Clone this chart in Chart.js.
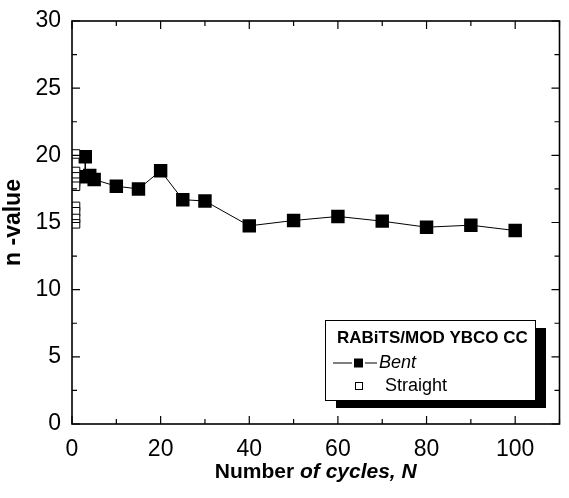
<!DOCTYPE html>
<html>
<head>
<meta charset="utf-8">
<script src="https://cdn.jsdelivr.net/npm/chart.js@4/dist/chart.umd.min.js"></script>
<style>
  html, body { margin: 0; padding: 0; background: #fff; }
  #wrap { width: 569px; height: 498px; }
</style>
</head>
<body>
<div id="wrap"><canvas id="myChart" width="569" height="498"></canvas></div>
<script>
// values
var bentN = [3, 3, 4, 5, 10, 15, 20, 25, 30, 40, 50, 60, 70, 80, 90, 100];
var bentValues = [19.9, 18.4, 18.5, 18.2, 17.7, 17.5, 18.85, 16.7, 16.6, 14.75, 15.15, 15.45, 15.1, 14.65, 14.8, 14.4];
var straightN = [0.8, 0.8, 0.8, 0.8, 0.8, 0.8, 0.8, 0.8, 0.8];
var straightValues = [20.1, 18.8, 18.4, 18.0, 17.7, 16.2, 15.8, 15.3, 14.9];
var xTickLabels = [0, 20, 40, 60, 80, 100];
var yTickLabels = [0, 5, 10, 15, 20, 25, 30];
var legendTitle = "RABiTS/MOD YBCO CC";

var FONT = "'Liberation Sans', Arial, sans-serif";

function toPoints(xs, ys) {
    return xs.map(function (x, i) { return { x: x, y: ys[i] }; });
}

// ticks pointing inward on all four sides, plus the box
var frame = {
    id: 'frame',
    afterDatasetsDraw: function (chart) {
        var ctx = chart.ctx, a = chart.chartArea;
        var xs = chart.scales.x, ys = chart.scales.y;
        ctx.save();
        ctx.strokeStyle = '#000';
        ctx.lineWidth = 1.6;
        ctx.strokeRect(a.left, a.top, a.right - a.left, a.bottom - a.top);
        ctx.lineWidth = 1.2;
        ctx.beginPath();
        xs.ticks.forEach(function (t) {
            var px = xs.getPixelForValue(t.value);
            var len = xTickLabels.indexOf(t.value) >= 0 ? 8 : 5;
            ctx.moveTo(px, a.bottom); ctx.lineTo(px, a.bottom - len);
            ctx.moveTo(px, a.top); ctx.lineTo(px, a.top + len);
        });
        ys.ticks.forEach(function (t) {
            var py = ys.getPixelForValue(t.value);
            var len = yTickLabels.indexOf(t.value) >= 0 ? 8 : 5;
            ctx.moveTo(a.left, py); ctx.lineTo(a.left + len, py);
            ctx.moveTo(a.right, py); ctx.lineTo(a.right - len, py);
        });
        ctx.stroke();
        ctx.restore();
    }
};

// boxed legend with a drop shadow, like the Origin one
var boxLegend = {
    id: 'boxLegend',
    afterDraw: function (chart) {
        var ctx = chart.ctx;
        var bx = 325, by = 320, bw = 210, bh = 80;
        ctx.save();
        ctx.fillStyle = '#000';
        ctx.fillRect(bx + 11, by + 8, bw, bh);
        ctx.fillStyle = '#fff';
        ctx.fillRect(bx, by, bw, bh);
        ctx.strokeStyle = '#000';
        ctx.lineWidth = 1;
        ctx.strokeRect(bx + 0.5, by + 0.5, bw, bh);

        ctx.fillStyle = '#000';
        ctx.textBaseline = 'middle';
        ctx.textAlign = 'left';
        ctx.font = 'bold 17px ' + FONT;
        ctx.fillText(legendTitle, bx + 12, by + 18);

        var ds = chart.data.datasets;
        // Bent: line + filled square
        var y1 = by + 43;
        ctx.lineWidth = 1;
        ctx.beginPath();
        ctx.moveTo(bx + 8, y1); ctx.lineTo(bx + 27, y1);
        ctx.moveTo(bx + 40, y1); ctx.lineTo(bx + 52, y1);
        ctx.stroke();
        ctx.fillRect(bx + 29, y1 - 4.5, 9, 9);
        ctx.font = 'italic 18px ' + FONT;
        ctx.fillText(ds[0].label, bx + 54, y1);
        // Straight: open square
        var y2 = by + 66;
        ctx.strokeRect(bx + 30.5, y2 - 3.5, 7, 7);
        ctx.font = '18px ' + FONT;
        ctx.fillText(ds[1].label, bx + 60, y2);
        ctx.restore();
    }
};

// x title with upright "Number" and italic rest
var xTitle = {
    id: 'xTitle',
    afterDraw: function (chart) {
        var ctx = chart.ctx, a = chart.chartArea;
        var p1 = 'Number ', p2 = 'of cycles, N';
        ctx.save();
        ctx.fillStyle = '#000';
        ctx.textBaseline = 'middle';
        ctx.textAlign = 'left';
        ctx.font = 'bold 21px ' + FONT;
        var w1 = ctx.measureText(p1).width;
        ctx.font = 'italic bold 21px ' + FONT;
        var w2 = ctx.measureText(p2).width;
        var x0 = (a.left + a.right) / 2 - (w1 + w2) / 2;
        var yy = 472;
        ctx.font = 'bold 21px ' + FONT;
        ctx.fillText(p1, x0, yy);
        ctx.font = 'italic bold 21px ' + FONT;
        ctx.fillText(p2, x0 + w1, yy);
        ctx.restore();
    }
};

var ctx = document.getElementById('myChart');
var myChart = new Chart(ctx, {
    type: 'scatter',
    data: {
        datasets: [{
            label: 'Bent',
            data: toPoints(bentN, bentValues),
            showLine: true,
            borderColor: '#000',
            borderWidth: 1,
            backgroundColor: '#000',
            pointStyle: 'rect',
            pointRadius: 9.5,
            pointBorderWidth: 0,
            order: 2
        }, {
            label: 'Straight',
            data: toPoints(straightN, straightValues),
            showLine: false,
            borderColor: '#000',
            backgroundColor: '#fff',
            pointStyle: 'rect',
            pointRadius: 6,
            pointBorderWidth: 1,
            order: 1
        }]
    },
    options: {
        responsive: false,
        animation: false,
        events: [],
        layout: { padding: { top: 21, right: 4, left: 0, bottom: 0 } },
        plugins: {
            legend: { display: false },
            tooltip: { enabled: false }
        },
        scales: {
            x: {
                type: 'linear',
                min: 0,
                max: 110,
                grid: { display: false },
                border: { display: false },
                ticks: {
                    stepSize: 10,
                    autoSkip: false,
                    maxRotation: 0,
                    padding: 4,
                    color: '#000',
                    font: { family: FONT, size: 23 },
                    callback: function (v) { return xTickLabels.indexOf(v) >= 0 ? String(v) : ''; }
                },
                afterFit: function (scale) { scale.height = 498 - 424; }
            },
            y: {
                min: 0,
                max: 30,
                grid: { display: false },
                border: { display: false },
                title: {
                    display: true,
                    text: 'n -value',
                    color: '#000',
                    font: { family: FONT, size: 23, weight: 'bold' },
                    padding: { top: 0, bottom: 4 }
                },
                ticks: {
                    stepSize: 2.5,
                    autoSkip: false,
                    padding: 3,
                    color: '#000',
                    font: { family: FONT, size: 23 },
                    callback: function (v) { return yTickLabels.indexOf(v) >= 0 ? String(v) : ''; }
                },
                afterFit: function (scale) { scale.width = 72; }
            }
        }
    },
    plugins: [frame, boxLegend, xTitle]
});
</script>
</body>
</html>
